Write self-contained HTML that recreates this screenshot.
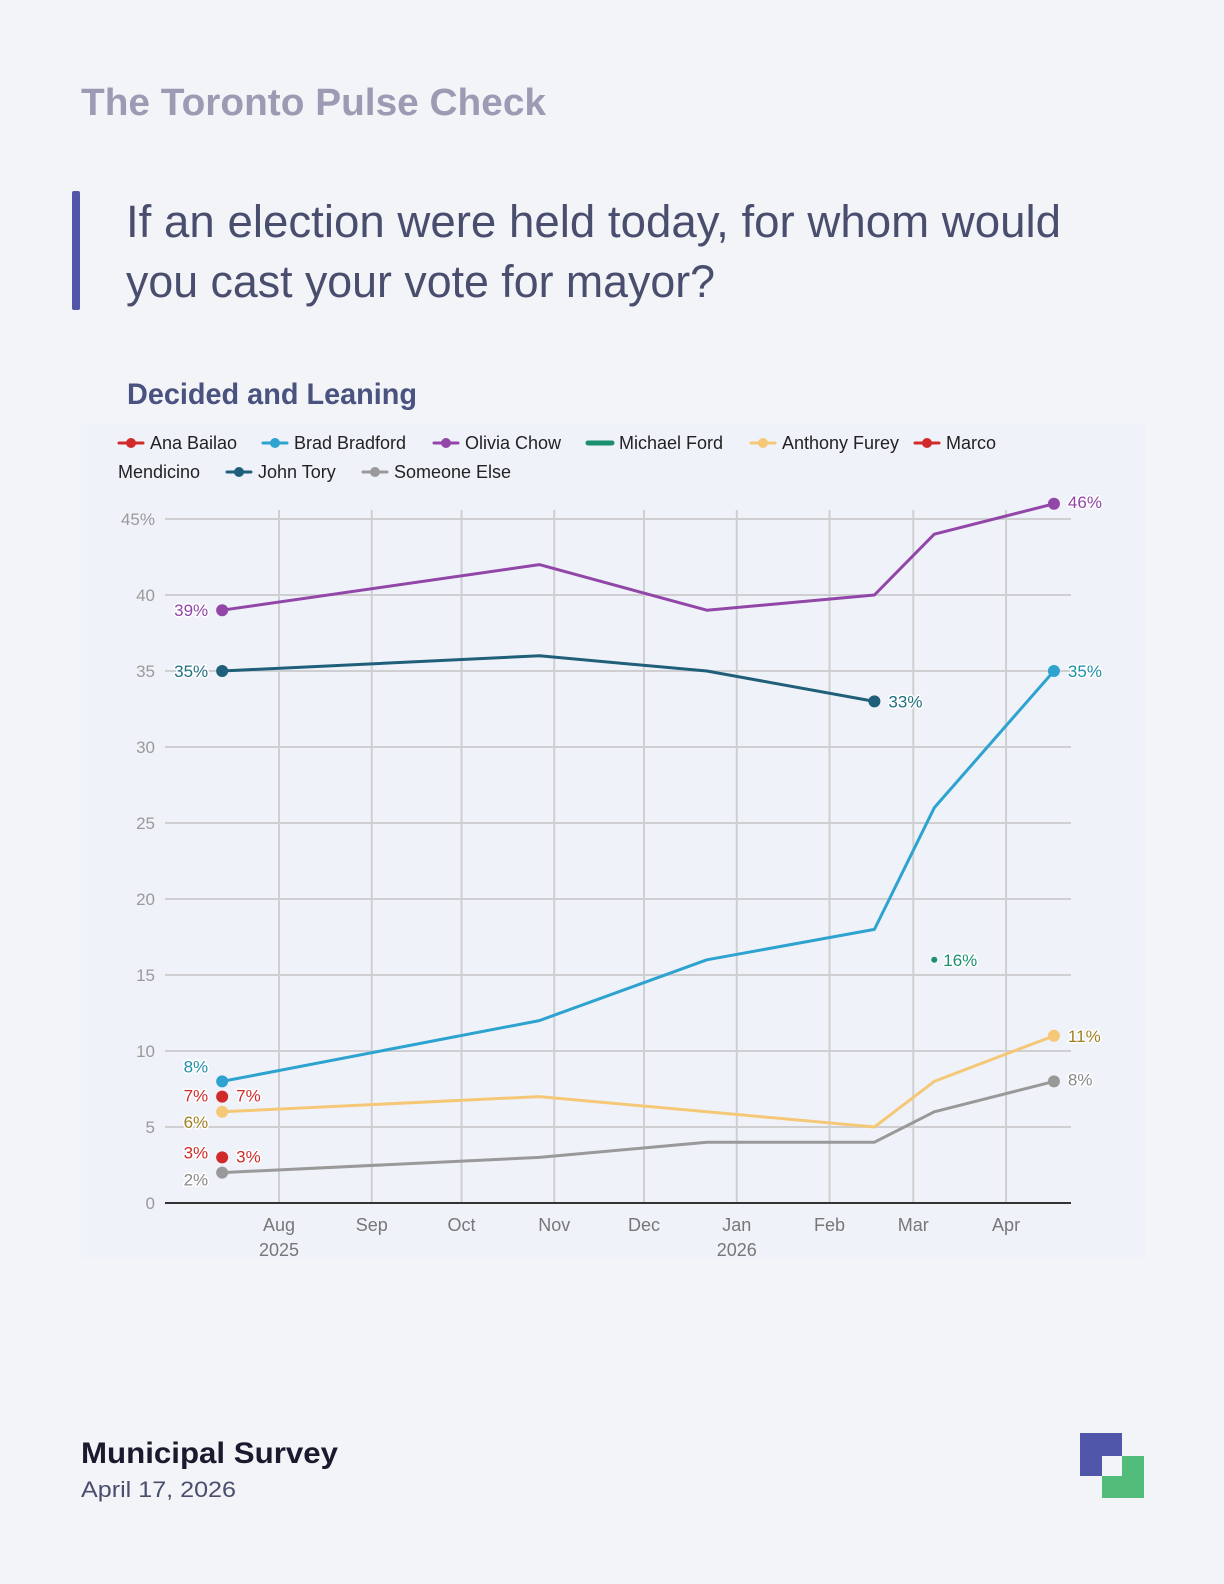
<!DOCTYPE html>
<html><head><meta charset="utf-8"><style>
html,body{margin:0;padding:0;background:#f2f4f8;}
svg{display:block;font-family:"Liberation Sans",sans-serif;}
.lbl{paint-order:stroke;stroke:#fff;stroke-width:3px;stroke-linejoin:round;font-size:17px;}
</style></head><body>
<svg id="s" width="1224" height="1584" viewBox="0 0 1224 1584" xmlns="http://www.w3.org/2000/svg">
<rect width="1224" height="1584" fill="#f2f4f8"/>
<text x="81" y="115" font-size="38" font-weight="bold" fill="#9b9bb4" textLength="465" lengthAdjust="spacingAndGlyphs">The Toronto Pulse Check</text>
<rect x="72" y="191" width="8" height="119" rx="2" fill="#5157a8"/>
<text x="126" y="237" font-size="45" fill="#4a4e6e" textLength="935" lengthAdjust="spacingAndGlyphs">If an election were held today, for whom would</text>
<text x="126" y="297" font-size="45" fill="#4a4e6e" textLength="589" lengthAdjust="spacingAndGlyphs">you cast your vote for mayor?</text>
<text x="127" y="404" font-size="30" font-weight="bold" fill="#4a5280" textLength="290" lengthAdjust="spacingAndGlyphs">Decided and Leaning</text>
<rect x="81" y="424" width="1065" height="834" fill="#eff2f8"/>
<g id="legend"></g>
<g id="grid"></g>
<g id="series"></g>
<text x="81" y="1463" font-size="30" font-weight="bold" fill="#1a1a2e" textLength="257" lengthAdjust="spacingAndGlyphs">Municipal Survey</text>
<text x="81" y="1497" font-size="22" fill="#4a4e6e" textLength="155" lengthAdjust="spacingAndGlyphs">April 17, 2026</text>
<g>
<rect x="1080" y="1433" width="42" height="43" fill="#5157a8"/>
<rect x="1102" y="1456" width="42" height="42" fill="#52bd7b"/>
<rect x="1102" y="1456" width="20" height="20" fill="#f2f4f8"/>
</g>
</svg>
<script>
// day index from 2025-07-01
const dates = [12, 118, 174, 230, 250, 290];
const chow = [39, 42, 39, 40, 44, 46];
const tory = [35, 36, 35, 33];
const bradford = [8, 12, 16, 18, 26, 35];
const furey = [6, 7, 6, 5, 8, 11];
const someone = [2, 3, 4, 4, 6, 8];
const fordDates = [250];
const ford = [16];
const bailaoDates = [12];
const bailao = [7];
const mendicinoDates = [12];
const mendicino = [3];
const yTicks = [0, 5, 10, 15, 20, 25, 30, 35, 40, 45];
const yTickLabels = ["0", "5", "10", "15", "20", "25", "30", "35", "40", "45%"];
const monthDays = [31, 62, 92, 123, 153, 184, 215, 243, 274];
const monthLabels = ["Aug", "Sep", "Oct", "Nov", "Dec", "Jan", "Feb", "Mar", "Apr"];
const yearLabels = ["2025", "", "", "", "", "2026", "", "", ""];

const NS = "http://www.w3.org/2000/svg";
const X0 = 165, X1 = 1071;
function x(d){ return 279 + (d - 31) * 2.992; }
function y(v){ return 1203 - v * 15.2; }
function mk(tag, attrs, parent){
  const e = document.createElementNS(NS, tag);
  for (const k in attrs) e.setAttribute(k, attrs[k]);
  parent.appendChild(e);
  return e;
}
const grid = document.getElementById('grid');
yTicks.forEach((t, i) => {
  if (t > 0) {
    const l = mk('line', {x1: X0, x2: X1, y1: y(t), y2: y(t), stroke: '#cfcfd2', 'stroke-width': 2}, grid);
    
    
  }
  const tx = mk('text', {x: 155, y: y(t) + 6, 'text-anchor': 'end', 'font-size': 17, fill: '#9a9a9a'}, grid);
  tx.textContent = yTickLabels[i];
  
  
});
monthDays.forEach((d, i) => {
  const l = mk('line', {x1: x(d), x2: x(d), y1: 510, y2: 1203, stroke: '#cfcfd2', 'stroke-width': 2}, grid);
  
  
  const t = mk('text', {x: x(d), y: 1231, 'text-anchor': 'middle', 'font-size': 18, fill: '#777'}, grid);
  t.textContent = monthLabels[i];
  
  
  if (yearLabels[i]) {
    const t2 = mk('text', {x: x(d), y: 1256, 'text-anchor': 'middle', 'font-size': 18, fill: '#777'}, grid);
    t2.textContent = yearLabels[i];
    
    
  }
});
const ax = mk('line', {x1: X0, x2: X1, y1: 1203, y2: 1203, stroke: '#333', 'stroke-width': 2}, grid);



const S = document.getElementById('series');
function line(ds, vs, color, name){
  const pts = vs.map((v, i) => x(ds[i]) + ',' + y(v)).join(' ');
  const p = mk('polyline', {points: pts, fill: 'none', stroke: color, 'stroke-width': 3, 'stroke-linejoin': 'round'}, S);
  
  
}
function dot(d, v, color, name, r){
  const c = mk('circle', {cx: x(d), cy: y(v), r: r || 6, fill: color}, S);
  
  
}
function label(d, v, txt, color, dx, dy, anchor, name){
  const t = mk('text', {x: x(d) + dx, y: y(v) + dy + 6, 'text-anchor': anchor, fill: color, class: 'lbl'}, S);
  t.textContent = txt;
  
  
}
const L = dates.length - 1;
line(dates, someone, '#999999', 'someone-else');
line(dates, furey, '#f5c878', 'anthony-furey');
line(dates, bradford, '#2ea3d0', 'brad-bradford');
line(dates.slice(0, tory.length), tory, '#1f5f7a', 'john-tory');
line(dates, chow, '#9146a8', 'olivia-chow');

dot(dates[0], chow[0], '#9146a8', 'olivia-chow'); dot(dates[L], chow[L], '#9146a8', 'olivia-chow');
label(dates[0], chow[0], chow[0] + '%', '#9146a8', -14, 0, 'end', 'olivia-chow');
label(dates[L], chow[L], chow[L] + '%', '#9146a8', 14, -2, 'start', 'olivia-chow');
const tl = tory.length - 1;
dot(dates[0], tory[0], '#1f5f7a', 'john-tory'); dot(dates[tl], tory[tl], '#1f5f7a', 'john-tory');
label(dates[0], tory[0], tory[0] + '%', '#1f6f80', -14, 0, 'end', 'john-tory');
label(dates[tl], tory[tl], tory[tl] + '%', '#1f6f80', 14, 0, 'start', 'john-tory');
dot(dates[0], bradford[0], '#2ea3d0', 'brad-bradford'); dot(dates[L], bradford[L], '#2ea3d0', 'brad-bradford');
label(dates[0], bradford[0], bradford[0] + '%', '#1e8fa8', -14, -15, 'end', 'brad-bradford');
label(dates[L], bradford[L], bradford[L] + '%', '#1e8fa8', 14, 0, 'start', 'brad-bradford');
dot(dates[0], furey[0], '#f5c878', 'anthony-furey'); dot(dates[L], furey[L], '#f5c878', 'anthony-furey');
label(dates[0], furey[0], furey[0] + '%', '#a08020', -14, 10, 'end', 'anthony-furey');
label(dates[L], furey[L], furey[L] + '%', '#a08020', 14, 0, 'start', 'anthony-furey');
dot(dates[0], someone[0], '#999999', 'someone-else'); dot(dates[L], someone[L], '#999999', 'someone-else');
label(dates[0], someone[0], someone[0] + '%', '#888', -14, 7, 'end', 'someone-else');
label(dates[L], someone[L], someone[L] + '%', '#888', 14, -2, 'start', 'someone-else');
dot(fordDates[0], ford[0], '#1a9070', 'michael-ford', 3);
label(fordDates[0], ford[0], ford[0] + '%', '#1a9070', 9, 0, 'start', 'michael-ford');
dot(bailaoDates[0], bailao[0], '#d12a2a', 'ana-bailao');
label(bailaoDates[0], bailao[0], bailao[0] + '%', '#d12a2a', -14, -1, 'end', 'ana-bailao');
label(bailaoDates[0], bailao[0], bailao[0] + '%', '#d12a2a', 14, -1, 'start', 'ana-bailao');
dot(mendicinoDates[0], mendicino[0], '#d12a2a', 'marco-mendicino');
label(mendicinoDates[0], mendicino[0], mendicino[0] + '%', '#d12a2a', -14, -5, 'end', 'marco-mendicino');
label(mendicinoDates[0], mendicino[0], mendicino[0] + '%', '#d12a2a', 14, -1, 'start', 'marco-mendicino');

// legend
const LG = document.getElementById('legend');
const legendItems = [
  ['Ana Bailao', '#d12a2a', 119, 443, true],
  ['Brad Bradford', '#2ea3d0', 263, 443, true],
  ['Olivia Chow', '#9146a8', 434, 443, true],
  ['Michael Ford', '#1a9070', 588, 443, false],
  ['Anthony Furey', '#f5c878', 751, 443, true],
  ['Marco', '#d12a2a', 915, 443, true],
  ['John Tory', '#1f5f7a', 227, 472, true],
  ['Someone Else', '#999999', 363, 472, true]
];
legendItems.forEach(it => {
  const g = mk('g', {}, LG);
  
  
  mk('line', {x1: it[2], x2: it[2] + 24, y1: it[3], y2: it[3], stroke: it[1], 'stroke-width': it[4] ? 3 : 5, 'stroke-linecap': 'round'}, g);
  if (it[4]) mk('circle', {cx: it[2] + 12, cy: it[3], r: 5, fill: it[1]}, g);
  const t = mk('text', {x: it[2] + 31, y: it[3] + 6, 'font-size': 18, fill: '#222'}, g);
  t.textContent = it[0];
});
const mt = mk('text', {x: 118, y: 478, 'font-size': 18, fill: '#222'}, LG);
mt.textContent = 'Mendicino';


</script>
</body></html>
